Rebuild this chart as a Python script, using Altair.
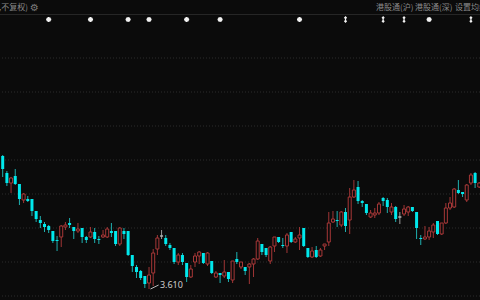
import altair as alt
import pandas as pd

BG = "#0b0b0b"

open_ = [4.009, 3.958, 3.928, 3.949, 3.925, 3.877, 3.880, 3.880, 3.844, 3.817,
         3.805, 3.799, 3.784, 3.757, 3.766, 3.796, 3.808, 3.796, 3.784, 3.793,
         3.766, 3.766, 3.781, 3.760, 3.766, 3.766, 3.784, 3.784, 3.745, 3.784,
         3.784, 3.712, 3.676, 3.664, 3.649, 3.628, 3.658, 3.730, 3.769, 3.763,
         3.742, 3.733, 3.691, 3.712, 3.688, 3.646, 3.691, 3.709, 3.718, 3.685,
         3.694, 3.646, 3.658, 3.649, 3.661, 3.637, 3.700, 3.676, 3.676, 3.676,
         3.685, 3.700, 3.745, 3.733, 3.694, 3.739, 3.766, 3.742, 3.739, 3.781,
         3.751, 3.763, 3.793, 3.733, 3.706, 3.727, 3.709, 3.739, 3.751, 3.811,
         3.817, 3.802, 3.841, 3.817, 3.886, 3.916, 3.874, 3.865, 3.826, 3.832,
         3.838, 3.883, 3.877, 3.841, 3.856, 3.826, 3.835, 3.841, 3.856, 3.841,
         3.763, 3.760, 3.766, 3.781, 3.814, 3.775, 3.808, 3.853, 3.856, 3.907,
         3.901, 3.877, 3.928, 3.958, 3.916]
high = [4.012, 3.964, 3.946, 3.970, 3.925, 3.898, 3.889, 3.880, 3.844, 3.829,
        3.811, 3.802, 3.784, 3.769, 3.802, 3.811, 3.823, 3.796, 3.808, 3.793,
        3.769, 3.796, 3.793, 3.769, 3.787, 3.796, 3.808, 3.784, 3.796, 3.793,
        3.784, 3.712, 3.682, 3.667, 3.649, 3.676, 3.730, 3.772, 3.787, 3.772,
        3.748, 3.733, 3.718, 3.718, 3.688, 3.682, 3.718, 3.724, 3.718, 3.721,
        3.694, 3.664, 3.658, 3.697, 3.661, 3.694, 3.721, 3.691, 3.676, 3.688,
        3.703, 3.763, 3.745, 3.733, 3.739, 3.766, 3.766, 3.763, 3.778, 3.781,
        3.766, 3.796, 3.793, 3.733, 3.736, 3.739, 3.733, 3.745, 3.841, 3.844,
        3.844, 3.844, 3.853, 3.913, 3.937, 3.934, 3.877, 3.865, 3.847, 3.853,
        3.871, 3.886, 3.883, 3.868, 3.859, 3.841, 3.862, 3.859, 3.856, 3.841,
        3.772, 3.799, 3.796, 3.808, 3.814, 3.808, 3.868, 3.886, 3.913, 3.937,
        3.901, 3.925, 3.958, 3.961, 3.931]
low = [3.946, 3.919, 3.898, 3.922, 3.862, 3.868, 3.871, 3.829, 3.811, 3.793,
       3.781, 3.778, 3.748, 3.724, 3.736, 3.787, 3.793, 3.760, 3.778, 3.748,
       3.748, 3.763, 3.748, 3.745, 3.763, 3.763, 3.766, 3.739, 3.739, 3.760,
       3.709, 3.661, 3.643, 3.637, 3.613, 3.610, 3.619, 3.712, 3.760, 3.739,
       3.727, 3.685, 3.682, 3.682, 3.631, 3.643, 3.676, 3.685, 3.685, 3.679,
       3.655, 3.643, 3.628, 3.643, 3.631, 3.628, 3.685, 3.670, 3.652, 3.625,
       3.646, 3.697, 3.712, 3.706, 3.685, 3.721, 3.748, 3.733, 3.718, 3.748,
       3.748, 3.727, 3.736, 3.703, 3.703, 3.703, 3.706, 3.727, 3.739, 3.808,
       3.796, 3.796, 3.781, 3.775, 3.883, 3.865, 3.856, 3.832, 3.823, 3.823,
       3.832, 3.859, 3.838, 3.832, 3.811, 3.805, 3.829, 3.829, 3.841, 3.760,
       3.742, 3.757, 3.757, 3.763, 3.772, 3.772, 3.805, 3.847, 3.853, 3.895,
       3.886, 3.871, 3.922, 3.913, 3.913]
close = [3.970, 3.928, 3.943, 3.925, 3.880, 3.895, 3.874, 3.844, 3.820, 3.808,
         3.796, 3.787, 3.754, 3.754, 3.799, 3.802, 3.802, 3.784, 3.790, 3.766,
         3.757, 3.781, 3.760, 3.757, 3.772, 3.790, 3.778, 3.745, 3.793, 3.775,
         3.712, 3.679, 3.661, 3.643, 3.625, 3.652, 3.718, 3.763, 3.769, 3.745,
         3.733, 3.691, 3.712, 3.691, 3.646, 3.670, 3.709, 3.721, 3.688, 3.718,
         3.658, 3.658, 3.652, 3.661, 3.640, 3.694, 3.691, 3.691, 3.664, 3.685,
         3.700, 3.754, 3.721, 3.712, 3.736, 3.766, 3.751, 3.739, 3.772, 3.751,
         3.760, 3.772, 3.739, 3.706, 3.724, 3.706, 3.727, 3.745, 3.808, 3.820,
         3.814, 3.841, 3.799, 3.886, 3.907, 3.874, 3.868, 3.838, 3.838, 3.838,
         3.865, 3.874, 3.856, 3.856, 3.820, 3.826, 3.850, 3.856, 3.844, 3.793,
         3.760, 3.766, 3.784, 3.802, 3.775, 3.808, 3.853, 3.868, 3.910, 3.898,
         3.895, 3.922, 3.952, 3.928, 3.928]

grid_levels = [4.303, 4.201, 4.099, 3.997, 3.895, 3.793, 3.691, 3.589]

marker_idx = [11, 21, 30, 35, 44, 52, 71, 82, 91, 96, 102, 112]
marker_kind = ["star", "star", "star", "star", "star", "star", "star",
               "arrow", "arrow", "arrow", "star", "arrow"]

header_left = "日K线,不复权)"
header_right = ["港股通(沪)", "港股通(深)", "设置均线"]
header_right_x = [376, 415, 455]

df = pd.DataFrame({"i": list(range(len(open_))), "open": open_, "high": high,
                   "low": low, "close": close})
df["dir"] = ["up" if c > o else ("down" if c < o else "flat")
             for o, c in zip(df["open"], df["close"])]

xs = alt.Scale(domain=[-0.646, 114.17], nice=False, zero=False, padding=0)
ys = alt.Scale(domain=[3.577, 4.477], nice=False, zero=False, padding=0)
X = alt.X("i:Q", scale=xs, axis=None)
cscale = alt.Scale(domain=["up", "down", "flat"], range=["#a03535", "#1fb0b0", "#9a9a9a"])

grid = alt.Chart(pd.DataFrame({"g": grid_levels})).mark_rule(
    color="#2c2c2c", strokeDash=[1, 2], strokeWidth=1
).encode(y=alt.Y("g:Q", scale=ys, axis=None))

header_line = alt.Chart(pd.DataFrame({"a": [0]})).mark_rule(
    color="#262626", strokeWidth=1
).encode(x=alt.value(0), x2=alt.value(480), y=alt.value(14.5))

base = alt.Chart(df)
wicks = base.mark_rule(strokeWidth=1).encode(
    x=X, y=alt.Y("low:Q", scale=ys, axis=None), y2="high:Q",
    color=alt.Color("dir:N", scale=cscale, legend=None))

down_b = base.transform_filter(alt.datum.dir == "down").mark_bar(
    size=3, color="#00e8ec").encode(
    x=X, y=alt.Y("open:Q", scale=ys, axis=None), y2="close:Q")

up_b = base.transform_filter(alt.datum.dir == "up").mark_bar(
    size=3, fill=BG, stroke="#a83838", strokeWidth=1).encode(
    x=X, y=alt.Y("open:Q", scale=ys, axis=None), y2="close:Q")

flat_b = base.transform_filter(alt.datum.dir == "flat").mark_bar(
    size=3, fill="#b0b0b0", stroke="#b0b0b0", strokeWidth=1).encode(
    x=X, y=alt.Y("open:Q", scale=ys, axis=None), y2="close:Q")

STAR = "M0,-1L0,1M-1,0L1,0M-0.7,-0.7L0.7,0.7M-0.7,0.7L0.7,-0.7"
ARROW = "M0,-1L0,1M-0.45,-0.5L0,-1L0.45,-0.5M-0.45,0.5L0,1L0.45,0.5"
mdf = pd.DataFrame({"i": marker_idx, "k": marker_kind})
stars = alt.Chart(mdf).transform_filter(alt.datum.k == "star").mark_point(
    shape=STAR, size=26, stroke="#f2f2f2", strokeWidth=1.4, filled=False, opacity=1
).encode(x=X, y=alt.value(19.5))
arrows = alt.Chart(mdf).transform_filter(alt.datum.k == "arrow").mark_point(
    shape=ARROW, size=26, stroke="#f2f2f2", strokeWidth=1.2, filled=False, opacity=1
).encode(x=X, y=alt.value(19.5))

imin = int(df["low"].idxmin())
lowv = float(df["low"].min())
ann = pd.DataFrame({"i": [imin + 0.35], "i2": [imin + 2.3], "p": [lowv],
                    "p2": [lowv + 0.012], "t": [f"{lowv:.3f}"], "ti": [imin + 2.6]})
arrow = alt.Chart(ann).mark_rule(color="#bdbdbd", strokeWidth=1).encode(
    x=X, x2="i2:Q", y=alt.Y("p:Q", scale=ys, axis=None), y2="p2:Q")
lbl = alt.Chart(ann).mark_text(
    font="Noto Sans", fontSize=9, color="#cfcfcf", align="left", baseline="middle"
).encode(x=alt.X("ti:Q", scale=xs, axis=None), y=alt.Y("p2:Q", scale=ys, axis=None), text="t:N")

hl = alt.Chart(pd.DataFrame({"t": [header_left]})).mark_text(
    font="Noto Sans CJK SC", fontSize=8, color="#8a8a8a", align="right", baseline="middle"
).encode(x=alt.value(28), y=alt.value(7.5), text="t:N")
gear = alt.Chart(pd.DataFrame({"t": ["⚙"]})).mark_text(
    font="DejaVu Sans", fontSize=10, color="#7a7a7a", align="center", baseline="middle"
).encode(x=alt.value(34.5), y=alt.value(7.5), text="t:N")

hr_layers = [
    alt.Chart(pd.DataFrame({"t": [t]})).mark_text(
        font="Noto Sans CJK SC", fontSize=8, color="#8a8a8a", align="left", baseline="middle"
    ).encode(x=alt.value(xp), y=alt.value(7.5), text="t:N")
    for t, xp in zip(header_right, header_right_x)
]

chart = alt.layer(
    grid, header_line, wicks, down_b, up_b, flat_b, stars, arrows, arrow, lbl, hl, gear,
    *hr_layers
).properties(
    width=480, height=300, autosize=alt.AutoSizeParams(type="none"), padding=0,
    background=BG
).configure_view(strokeWidth=0)

chart.save("out.html", embed_options={"renderer": "svg", "actions": False})
